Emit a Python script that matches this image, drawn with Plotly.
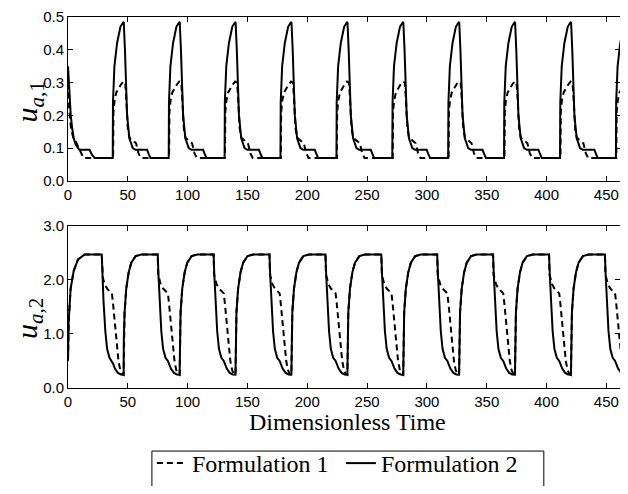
import plotly.graph_objects as go

# ---------------- data ----------------
X_MAX = 461.4
# times at which each cycle starts (the sharp drop of u_a,2)
cycle_anchor = [28.2, 75.0, 121.7, 168.4, 215.2, 261.9, 308.6, 355.3, 402.1, 448.8]

# u_{a,1}  Formulation 2 (solid)
ua1_f2_init_t = [0, 1.0, 2.3, 3.5, 4.8, 6.5, 8.4, 9.5, 18.0, 20.0, 22.3]
ua1_f2_init_y = [0.35, 0.26, 0.20, 0.16, 0.13, 0.11, 0.10, 0.095, 0.095, 0.08, 0.07]
ua1_f2_cyc_t = [0, 9.2, 9.4, 10.6, 12.8, 15.6, 17.8, 18.4, 19.4, 20.4, 21.2, 23.1, 25.9, 28.2, 37.9, 39.5, 40.7]
ua1_f2_cyc_y = [0.07, 0.07, 0.24, 0.35, 0.42, 0.47, 0.483, 0.485, 0.40, 0.30, 0.20, 0.13, 0.10, 0.095, 0.095, 0.08, 0.07]

# u_{a,1}  Formulation 1 (dashed)
ua1_f1_init_t = [0, 1.0, 2.5, 4.5, 6.5, 8.5, 10.0, 11.5, 13.0]
ua1_f1_init_y = [0.30, 0.22, 0.16, 0.13, 0.12, 0.105, 0.09, 0.078, 0.07]
ua1_f1_cyc_t = [0, 9.5, 9.8, 10.7, 12.2, 14.2, 16.2, 18.0, 19.6, 20.4, 21.0, 21.8, 23.2, 25.7, 28.7, 30.7, 32.7]
ua1_f1_cyc_y = [0.07, 0.07, 0.21, 0.245, 0.27, 0.285, 0.295, 0.303, 0.30, 0.26, 0.20, 0.16, 0.132, 0.125, 0.115, 0.085, 0.07]

# u_{a,2}  Formulation 2 (solid)
ua2_f2_init_t = [0, 0.6, 2.2, 4.8, 8.4, 14.0]
ua2_f2_init_y = [0.5, 1.24, 1.84, 2.17, 2.38, 2.47]
ua2_f2_cyc_t = [0, 0.6, 1.5, 3.0, 4.5, 6.5, 8.5, 9.5, 11.0, 13.5, 16.0, 18.3, 18.45, 19.1, 20.5, 22.5, 24.7, 28.3, 33.1]
ua2_f2_cyc_y = [2.47, 2.1, 1.6, 1.05, 0.72, 0.56, 0.5, 0.45, 0.36, 0.28, 0.25, 0.245, 0.9, 1.4, 1.84, 2.14, 2.32, 2.44, 2.47]

# u_{a,2}  Formulation 1 (dashed)
ua2_f1_init_t = [0, 0.6, 2.2, 4.8, 8.4, 14.0]
ua2_f1_init_y = [0.5, 1.24, 1.84, 2.17, 2.38, 2.47]
ua2_f1_cyc_t = [0, 0.4, 1.0, 2.5, 4.5, 6.5, 8.5, 9.5, 11.0, 12.5, 14.0, 15.5, 17.0, 18.3, 18.45, 19.1, 20.5, 22.5, 24.7, 28.3, 33.1]
ua2_f1_cyc_y = [2.47, 2.1, 2.03, 1.92, 1.84, 1.79, 1.75, 1.55, 1.15, 0.8, 0.5, 0.33, 0.26, 0.245, 0.9, 1.4, 1.84, 2.14, 2.32, 2.44, 2.47]

x_ticks = [0, 50, 100, 150, 200, 250, 300, 350, 400, 450]
ua1_ticks = [0.0, 0.1, 0.2, 0.3, 0.4, 0.5]
ua2_ticks = [0.0, 1.0, 2.0, 3.0]
series_names = ["Formulation 1", "Formulation 2"]


def build(init_t, init_y, cyc_t, cyc_y):
    xs, ys = list(init_t), list(init_y)
    for a in cycle_anchor:
        xs += [a + t for t in cyc_t]
        ys += list(cyc_y)
    return xs, ys


SERIF = "Liberation Serif, Times New Roman, serif"
SANS = "Liberation Sans, Arial, sans-serif"
DASH = "6px,4px"

fig = go.Figure()

x, y = build(ua1_f1_init_t, ua1_f1_init_y, ua1_f1_cyc_t, ua1_f1_cyc_y)
fig.add_trace(go.Scatter(x=x, y=y, mode="lines", name=series_names[0],
                         line=dict(color="black", width=2, dash=DASH),
                         xaxis="x", yaxis="y", legendgroup="f1"))
x, y = build(ua1_f2_init_t, ua1_f2_init_y, ua1_f2_cyc_t, ua1_f2_cyc_y)
fig.add_trace(go.Scatter(x=x, y=y, mode="lines", name=series_names[1],
                         line=dict(color="black", width=2),
                         xaxis="x", yaxis="y", legendgroup="f2"))
x, y = build(ua2_f1_init_t, ua2_f1_init_y, ua2_f1_cyc_t, ua2_f1_cyc_y)
fig.add_trace(go.Scatter(x=x, y=y, mode="lines", name=series_names[0],
                         line=dict(color="black", width=2, dash=DASH),
                         xaxis="x2", yaxis="y2", showlegend=False, legendgroup="f1"))
x, y = build(ua2_f2_init_t, ua2_f2_init_y, ua2_f2_cyc_t, ua2_f2_cyc_y)
fig.add_trace(go.Scatter(x=x, y=y, mode="lines", name=series_names[1],
                         line=dict(color="black", width=2),
                         xaxis="x2", yaxis="y2", showlegend=False, legendgroup="f2"))

axis_common = dict(showline=True, linecolor="black", linewidth=1, mirror="ticks",
                   ticks="inside", ticklen=5, tickcolor="black", tickwidth=1,
                   showgrid=False, zeroline=False,
                   tickfont=dict(family=SANS, size=15, color="black"))

# the page keeps its default 8px body margin, so the figure is sized to
# fill the 628x494 window exactly inside it
fig.update_layout(
    width=612, height=478,
    margin=dict(l=60, r=0, t=9, b=87),
    paper_bgcolor="white", plot_bgcolor="white",
    showlegend=True,
    xaxis=dict(axis_common, anchor="y", domain=[0, 1], range=[0, X_MAX],
               tickvals=x_ticks),
    yaxis=dict(axis_common, anchor="x", domain=[0.558, 1], range=[0, 0.5],
               tickvals=ua1_ticks, tickformat=".1f"),
    xaxis2=dict(axis_common, anchor="y2", domain=[0, 1], range=[0, X_MAX],
                tickvals=x_ticks),
    yaxis2=dict(axis_common, anchor="x2", domain=[0, 0.437], range=[0, 3],
                tickvals=ua2_ticks, tickformat=".1f"),
    legend=dict(orientation="h", x=0.152, xanchor="left", y=-0.143, yanchor="top",
                borderwidth=0, bgcolor="rgba(0,0,0,0)",
                font=dict(family=SERIF, size=24, color="black"),
                itemwidth=30, entrywidth=144, tracegroupgap=0),
    shapes=[
        dict(type="rect", xref="paper", yref="paper",
             x0=0.152, x1=0.862, y0=-0.170, y1=-0.30,
             line=dict(color="black", width=1), fillcolor="rgba(0,0,0,0)"),
    ],
    annotations=[
        dict(text="<i>u</i><sub><i>a</i>,1</sub>", xref="paper", yref="paper",
             x=-0.071, y=0.772, xanchor="center", yanchor="middle", textangle=-90,
             showarrow=False, font=dict(family=SERIF, size=30, color="black")),
        dict(text="<i>u</i><sub><i>a</i>,2</sub>", xref="paper", yref="paper",
             x=-0.071, y=0.188, xanchor="center", yanchor="middle", textangle=-90,
             showarrow=False, font=dict(family=SERIF, size=30, color="black")),
        dict(text="Dimensionless Time", xref="paper", yref="paper",
             x=0.507, y=-0.092, xanchor="center", yanchor="middle",
             showarrow=False, font=dict(family=SERIF, size=24, color="black")),
    ],
)

fig.write_html("out.html", config={"displayModeBar": False})
